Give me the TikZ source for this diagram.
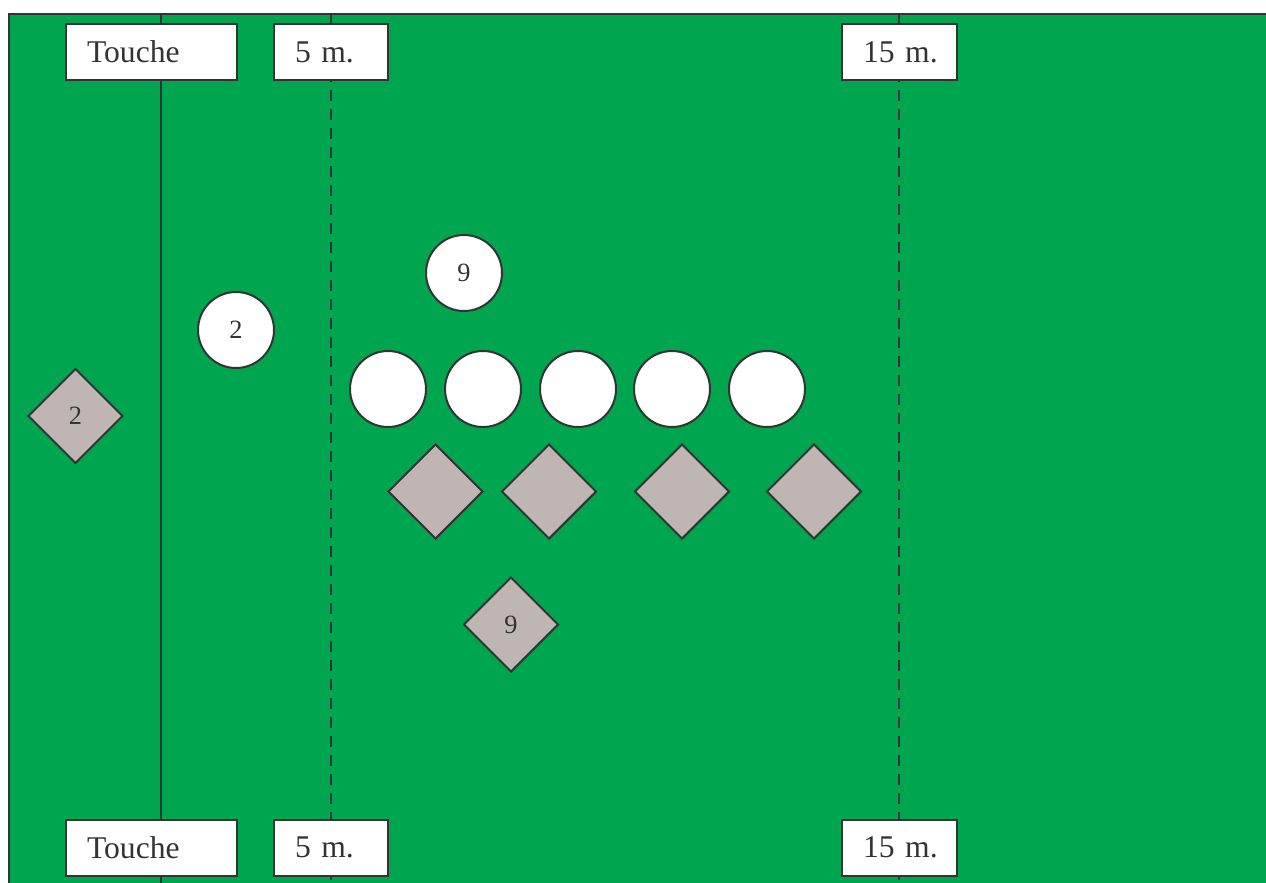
\documentclass[tikz,border=0pt]{standalone}
\usepackage{fontspec}
\setmainfont{Liberation Serif}
\usetikzlibrary{shapes.geometric}
\definecolor{pitch}{HTML}{00A54F}
\definecolor{dark}{HTML}{333333}
\definecolor{stone}{HTML}{BFB6B4}
\tikzset{
  labelbox/.style={draw=dark, text=dark, line width=0.04cm, fill=white, minimum height=1.12cm, inner xsep=0pt, inner ysep=0pt, align=left, execute at begin node=\hspace*{0.42cm}, font=\fontsize{18}{20}\selectfont},
  player/.style={circle, draw=dark, text=dark, line width=0.04cm, fill=white, minimum size=1.52cm, inner sep=0pt, font=\fontsize{15}{17}\selectfont},
  opponent/.style={diamond, aspect=1, draw=dark, text=dark, line width=0.04cm, fill=stone, minimum size=1.9cm, inner sep=0pt, font=\fontsize{15}{17}\selectfont},
  fieldline/.style={draw=dark, line width=0.04cm},
  dashline/.style={fieldline, dash pattern=on 0.22cm off 0.16cm}
}

\begin{document}
\begin{tikzpicture}[x=0.02cm, y=-0.02cm]
  \useasboundingbox (0,0) rectangle (1266,882);
  % pitch
  \fill[pitch] (9,14) rectangle (1290,900);
  \draw[fieldline] (1290,14) -- (9,14) -- (9,900);
  % lines
  \coordinate (touchtop) at (161,14);
  \coordinate (touchbot) at (161,900);
  \coordinate (fivetop) at (331,14);
  \coordinate (fivebot) at (331,900);
  \coordinate (fifteentop) at (899,14);
  \coordinate (fifteenbot) at (899,900);
  \draw[fieldline] (touchtop) -- (touchbot);
  \draw[dashline] (fivetop) -- (fivebot);
  \draw[dashline] (fifteentop) -- (fifteenbot);
  % labels
  \node[labelbox, text width=3.42cm] (touchen) at (151.5,52) {Touche};
  \node[labelbox, text width=2.28cm] (fiven) at (331,52) {5 m.};
  \node[labelbox, text width=2.3cm] (fifteenn) at (899.5,52) {15 m.};
  \node[labelbox, text width=3.42cm] (touches) at (151.5,847.5) {Touche};
  \node[labelbox, text width=2.28cm] (fives) at (331,847.5) {5 m.};
  \node[labelbox, text width=2.3cm] (fifteens) at (899.5,847.5) {15 m.};
  % white team
  \node[player] (wnine) at (464,273) {9};
  \node[player] (wtwo) at (236,330) {2};
  \foreach \x [count=\i] in {388,483,578,672,767}
    \node[player] (wfwd\i) at (\x,389) {};
  % grey team
  \node[opponent] (gtwo) at (75.5,416) {2};
  \foreach \x [count=\i] in {435.5,549,682,814}
    \node[opponent] (gfwd\i) at (\x,491.5) {};
  \node[opponent] (gnine) at (511,624.5) {9};
\end{tikzpicture}
\end{document}
